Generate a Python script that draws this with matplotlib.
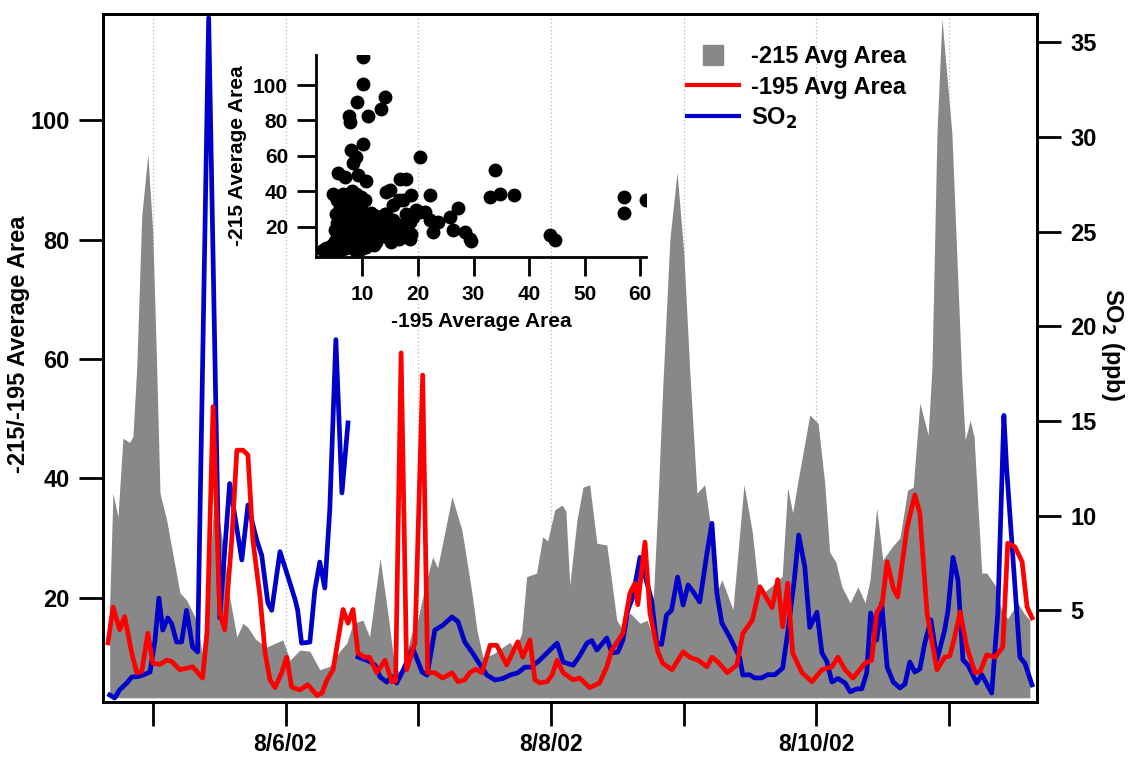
import matplotlib
matplotlib.use('Agg')
import matplotlib.pyplot as plt
from matplotlib.lines import Line2D

plt.rcParams['font.family'] = ['Liberation Sans', 'DejaVu Sans']
plt.rcParams['font.weight'] = 'bold'
plt.rcParams['axes.labelweight'] = 'bold'
plt.rcParams['mathtext.default'] = 'bf'

# ---------------- data (time in hours since 2002-08-05 00:00) ----------------
area215_t = [-7.8, -7.2, -6.3, -5.4, -4.2, -3.6, -2.9, -2.0, -0.9, 0.0, 0.7, 1.3, 2.5, 4.9, 6.1, 8.0, 8.9, 9.9,
             11.2, 12.5, 13.9, 15.2, 16.3, 17.2, 18.6, 20.6, 23.5, 24.8, 26.6, 28.4, 30.2, 32.0, 33.8, 35.1, 36.2,
             38.0, 39.2, 41.1, 42.5, 43.8, 45.0, 46.8, 47.9, 49.2, 50.6, 51.5, 54.1, 55.9, 57.7, 58.6, 59.7, 61.5,
             63.3, 64.6, 65.5, 66.7, 67.6, 69.4, 70.5, 71.4, 72.7, 74.0, 74.7, 75.4, 76.7, 77.8, 79.0, 80.3, 82.1,
             83.9, 85.0, 86.3, 88.1, 89.4, 90.2, 91.3, 92.2, 93.5, 94.8, 96.0, 97.1, 98.4, 99.8, 100.7, 102.0,
             102.9, 104.9, 106.9, 108.4, 109.4, 110.7, 112.5, 113.8, 114.8, 115.7, 116.7, 118.8, 120.3, 121.5,
             122.4, 123.5, 124.6, 126.1, 127.5, 128.8, 129.7, 130.9, 132.0, 133.7, 135.1, 136.5, 137.5, 138.7,
             140.2, 140.9, 141.8, 142.7, 144.5, 146.3, 146.9, 147.8, 148.5, 149.9, 150.8, 152.3, 153.6, 154.6,
             156.4, 157.5, 158.6]
area215 = [19, 37.5, 33.5, 46.7, 46, 47, 58.6, 84, 94.3, 81, 58.6, 37.5, 33, 20.8, 19.6, 16, 10.7, 20,
           38, 30, 20, 13.4, 15.7, 15, 13, 11.7, 12.9, 9.5, 11.2, 11, 7.9, 8.5, 11, 12.4, 15.7,
           16.2, 13.4, 26.6, 17.4, 7.9, 7.5, 14, 16.2, 21.8, 26.8, 25, 36.9, 31.3, 20.8, 14.6, 10, 10.5,
           11.7, 12.5, 11, 14, 23.5, 24.1, 30.2, 29.5, 34.7, 35.5, 34.5, 22.1, 33, 38.5, 38.9, 29.1, 28.8,
           16.2, 14.5, 17.4, 15.7, 16.2, 14, 35, 55, 80, 91.3, 78, 58, 37.5, 38.9, 33, 20.8,
           23, 18, 38.9, 31, 22.4, 21, 22.4, 23.5, 38.4, 34.2, 39.7, 50.6, 49.2, 39.2,
           27.6, 26, 21.8, 19.1, 21.8, 19.1, 23, 35, 26.3, 28.5, 30, 38, 38.5, 52.6,
           47.2, 58.6, 97.8, 117, 97.8, 56.5, 46.4, 49.7, 47, 24.1, 24.1, 22.1, 17.4, 16.5,
           19.1, 17.4, 16.2]

area195_t = [-8.1, -7.2, -6.0, -5.1, -3.8, -2.9, -2.0, -0.9, 0.0, 1.3, 2.5, 3.4, 4.9, 7.2, 9.0, 9.8, 10.9, 12.1,
             13.0, 14.3, 15.2, 16.3, 17.2, 18.1, 19.4, 20.3, 21.2, 22.1, 23.3, 24.2, 25.1, 26.6, 28.0, 29.7,
             30.6, 31.5, 32.6, 33.8, 34.4, 35.3, 36.2, 37.1, 38.3, 39.2, 40.5, 42.0, 43.2, 43.9, 44.9, 45.9,
             47.4, 48.8, 49.7, 51.0, 52.4, 54.1, 55.2, 56.4, 57.3, 58.4, 59.5, 61.0, 62.2, 64.0, 66.0, 66.9,
             68.2, 69.1, 70.0, 71.3, 72.2, 73.1, 74.2, 76.0, 77.2, 79.0, 80.8, 82.1, 83.0, 85.0, 86.3, 87.2,
             87.7, 89.0, 89.9, 91.3, 92.2, 93.9, 95.9, 97.1, 98.6, 100.2, 101.1, 102.2, 103.9, 105.6, 106.7,
             108.4, 109.8, 112.0, 113.0, 113.9, 114.8, 115.7, 117.4, 119.2, 121.0, 122.8, 123.9, 125.2, 126.6,
             128.8, 130.0, 130.9, 131.9, 132.8, 133.9, 134.7, 136.4, 137.8, 138.7, 140.0, 141.8, 143.2, 144.1,
             145.0, 146.0, 147.2, 148.7, 149.6, 150.8, 152.3, 153.7, 154.6, 155.9, 157.2, 158.1, 159.0]
area195 = [12.4, 18.4, 14.6, 16.8, 10.7, 7.4, 7.6, 14, 9, 8.8, 9.5, 9.3, 7.9, 8.4, 6.5, 14, 52, 17.4,
           14.6, 30, 44.7, 44.7, 43.9, 29.6, 20, 10.7, 6.2, 4.9, 7.4, 10, 5.0, 4.5, 5.4, 3.6,
           4, 6.2, 7.9, 14.6, 18, 15.7, 18, 10.7, 10, 10, 7.4, 9.5, 5.9, 6, 61, 7.9,
           12.4, 57.3, 7.4, 7.4, 6.5, 7.4, 5.9, 6.2, 7.4, 8, 7.4, 12, 12, 8.7, 12.6, 10,
           12.9, 6.2, 5.7, 5.9, 7, 9.5, 7.4, 6.2, 6.5, 4.9, 5.7, 8.4, 11.2, 14, 20.8, 22.4,
           18.8, 29.3, 17.4, 11, 9, 7.9, 10.9, 10, 9.5, 8.4, 10, 9.2, 7.4, 8.7, 14,
           16.2, 21.8, 18.3, 23, 15.1, 22.4, 10.7, 7.4, 5.9, 7.9, 8.4, 10, 7.9, 6.5,
           9, 9.5, 17.4, 19, 26, 21.6, 20.1, 31.8, 37.2, 34.2, 17.4, 7.9, 10, 10.2,
           13.4, 17.6, 11.7, 7.4, 7.6, 10.4, 10, 11.7, 29.1, 28.5, 26, 18.4, 16.6]

so2_a_t = [-7.8, -6.9, -6.0, -4.7, -3.8, -2.7, -1.8, -0.5, 0.4, 1.1, 1.8, 2.7, 3.4, 4.3, 5.2, 6.1, 7.2, 8.1,
           10.1, 12.1, 13.9, 16.1, 17.2, 18.8, 19.7, 20.8, 21.5, 23.0, 24.8, 25.7, 26.2, 26.9, 28.4, 29.3,
           30.2, 31.1, 32.0, 33.1, 34.2, 35.3]
so2_a = [0.53, 0.37, 0.8, 1.16, 1.48, 1.5, 1.58, 1.74, 3.43, 5.65, 3.96, 4.6, 4.3, 3.33, 3.33, 5.0, 3.06, 2.8,
         36.3, 4.6, 11.7, 7.66, 10.56, 8.7, 7.9, 5.4, 5.0, 8.1, 6.44, 5.6, 5.0, 3.27, 3.32, 6.07,
         7.55, 6.18, 10.3, 19.3, 11.2, 14.9]

so2_b_t = [37.1, 38.3, 39.2, 40.2, 41.1, 42.3, 43.2, 44.1, 45.2, 47.0, 48.7, 49.6, 51.0, 52.4, 54.1, 55.2,
           56.4, 57.7, 58.8, 60.4, 61.9, 63.3, 64.6, 66.0, 67.3, 68.5, 70.0, 71.8, 73.1, 74.2, 76.0, 77.2,
           78.5, 79.4, 80.3, 82.1, 83.0, 84.1, 85.0, 85.9, 86.8, 88.1, 90.2, 91.1, 92.0, 92.9, 93.8, 94.9,
           95.9, 96.8, 97.9, 98.9, 100.2, 101.1, 102.0, 102.9, 104.3, 106.1, 106.7, 107.9, 108.8, 110.1,
           111.2, 112.5, 113.9, 114.8, 116.0, 116.8, 117.9, 118.8, 120.1, 121.0, 121.9, 122.8, 123.9, 125.2,
           126.1, 127.3, 128.2, 129.1, 129.8, 130.9, 131.8, 132.8, 133.9, 135.1, 136.0, 136.9, 137.8, 138.7,
           139.6, 140.7, 141.8, 143.2, 143.8, 144.7, 145.6, 146.5, 147.4, 149.0, 149.9, 151.7, 152.8, 153.9,
           154.4, 156.8, 157.7, 159.0]
so2_b = [2.53, 2.4, 2.3, 2.1, 1.48, 1.21, 1.5, 1.16, 1.8, 3.0, 1.74, 1.58, 3.96, 4.2, 4.65, 4.4,
         3.33, 2.8, 2.3, 1.58, 1.32, 1.4, 1.58, 1.7, 2.0, 2.0, 2.38, 2.9, 3.27, 2.27, 2.1, 2.6,
         3.27, 3.4, 2.9, 3.54, 2.75, 2.8, 3.43, 5.0, 5.7, 7.8, 5.54, 3.27, 3.2, 4.75, 5.0, 6.76,
         5.28, 6.34, 5.9, 5.44, 8.0, 9.6, 5.9, 4.33, 3.6, 2.53, 1.58, 1.6, 1.43, 1.43,
         1.6, 1.6, 1.95, 3.8, 6.6, 8.98, 7.3, 4.1, 4.9, 2.75, 2.3, 1.21, 1.4, 1.16,
         0.7, 0.85, 0.85, 1.69, 4.86, 3.43, 5.39, 2.0, 1.21, 0.9, 1.1, 2.27, 1.74, 1.9,
         3.27, 4.5, 2.38, 3.96, 5.0, 7.8, 6.6, 2.38, 2.1, 1.16, 1.6, 0.63, 4.86, 15.3,
         12.5, 2.53, 2.2, 1.06]

# inset scatter: -195 vs -215
inset_195 = [10.1, 10.1, 9.1, 14.0, 13.4, 7.6, 7.7, 11.0, 10.1, 8.0, 8.8, 8.3, 20.3, 5.6, 6.8, 9.2, 10.7,
             16.7, 17.9, 14.3, 14.9, 16.5, 18.8, 22.1, 4.7, 6.5, 8.9, 10.4, 15.5, 27.2, 19.7, 21.2, 17.9,
             25.7, 14.0, 22.1, 23.6, 18.5, 15.5, 16.4, 22.7, 26.3, 28.4, 29.3, 29.6, 18.5, 18.8, 15.2,
             16.5, 12.5, 2.9, 4.1, 5.9, 7.1, 9.2, 10.7, 11.9, 33.9, 32.9, 34.8, 37.2, 43.7, 44.6, 57.0,
             57.1, 61.0, 19.1, 20.3, 17.3,
             4.5, 5.0, 5.5, 6.0, 6.5, 7.0, 7.5, 8.0, 8.5, 9.0, 9.5, 10.0, 10.5, 11.0, 11.5, 12.0, 3.5, 4.0,
             5.2, 6.2, 8.7, 9.8, 5.0, 5.5, 6.0, 6.5, 7.0, 7.5, 8.0, 8.5, 9.0, 9.5, 10.0, 10.5, 11.0, 6.0,
             7.0, 8.0, 9.0, 10.0, 5.5, 6.5, 7.5, 8.5, 9.5, 7.2, 8.2, 9.8, 5.2, 6.8, 7.8, 8.8, 11.5, 12.5,
             13.0, 14.0, 13.5, 12.5, 11.5, 14.5, 15.0, 16.0, 17.0, 15.5, 14.2, 17.3, 16.8]
inset_215 = [116, 100.7, 90.3, 93.5, 86.6, 82.8, 79, 82.3, 66.9, 63.1, 59.3, 56, 59.3, 50.3, 48.1, 49, 45.6,
             46.8, 46.8, 39.6, 40.9, 34.9, 37.7, 38.1, 38.3, 38.3, 38.3, 34.9, 32.1, 30.6, 29.3, 28.4, 27.4,
             25.5, 27.4, 23.7, 22.7, 22.7, 21.8, 19.9, 17.1, 18.4, 17.1, 13.3, 12.0, 13.3, 16.2, 11.5,
             13.3, 11.5, 6.8, 8.6, 6.8, 9.0, 7.7, 8.6, 10.5, 51.8, 36.8, 38.7, 38.1, 15.2, 12.4, 36.8,
             28, 35.3, 25.5, 28.4, 34.9,
             10, 12, 9, 14, 11, 8, 13, 10, 15, 12, 9, 14, 11, 16, 13, 10, 8, 7,
             7, 7, 7, 7.5, 18, 22, 26, 20, 24, 18, 28, 22, 26, 19, 23, 20, 22, 31,
             33, 35, 31, 29, 35, 28, 30, 32, 34, 38, 40, 37, 27, 16, 21, 17, 18, 20,
             15, 17, 22, 26, 28, 14, 19, 16, 15, 24, 27.5, 19, 21]

day_ticks = [0, 24, 48, 72, 96, 120, 144]
day_labels = ['', '8/6/02', '', '8/8/02', '', '8/10/02', '']
left_ticks = [20, 40, 60, 80, 100]
right_ticks = [5, 10, 15, 20, 25, 30, 35]
inset_xticks = [10, 20, 30, 40, 50, 60]
inset_yticks = [20, 40, 60, 80, 100]

GRAY = '#888888'
RED = '#ff0000'
BLUE = '#0000c8'
FS = 16.5
LW = 3.4

fig = plt.figure(figsize=(11.36, 7.57), dpi=100)
ax = fig.add_axes([0.0907, 0.0727, 0.8222, 0.9088])
ax2 = ax.twinx()

ax.set_xlim(-9.0, 159.9)
ax.set_ylim(2.5, 117.8)
ax2.set_ylim(0.16, 36.5)

ax.set_axisbelow(True)
ax.grid(axis='x', linestyle=(0, (1, 2)), color='#b8b8b8', linewidth=0.9)
ax.fill_between(area215_t, area215, 3.2, color=GRAY, linewidth=0, zorder=1)

ax2.plot(so2_a_t, so2_a, color=BLUE, lw=LW, zorder=2, solid_joinstyle='round')
ax2.plot(so2_b_t, so2_b, color=BLUE, lw=LW, zorder=2, solid_joinstyle='round')
ax2.plot(area195_t, area195, color=RED, lw=LW, zorder=3, transform=ax.transData,
         solid_joinstyle='round')

ax.set_xticks(day_ticks)
ax.set_xticklabels(day_labels, fontsize=FS, fontweight='bold')
ax.set_yticks(left_ticks)
ax.set_yticklabels([str(v) for v in left_ticks], fontsize=FS + 0.5, fontweight='bold')
ax2.set_yticks(right_ticks)
ax2.set_yticklabels([str(v) for v in right_ticks], fontsize=FS + 0.5, fontweight='bold')
ax.tick_params(axis='x', direction='out', length=17, width=2, pad=5)
ax.tick_params(axis='y', direction='out', length=17, width=2, pad=7)
ax2.tick_params(axis='y', direction='out', length=17, width=2, pad=7)
for a in (ax, ax2):
    for s in a.spines.values():
        s.set_linewidth(2)

ax.set_ylabel('-215/-195 Average Area', fontsize=FS + 0.5, fontweight='bold')
ax.yaxis.set_label_coords(-0.078, 0.52)
ax2.set_ylabel('SO$_2$ (ppb)', fontsize=FS + 0.5, fontweight='bold', rotation=270, va='center')
ax2.yaxis.set_label_coords(1.081, 0.52)

handles = [Line2D([], [], marker='s', color=GRAY, linestyle='none', markersize=14),
           Line2D([], [], color=RED, lw=3),
           Line2D([], [], color=BLUE, lw=3)]
labels = ['-215 Avg Area', '-195 Avg Area', 'SO$_2$']
leg = ax2.legend(handles, labels, loc='upper left', bbox_to_anchor=(0.615, 0.968), frameon=False,
                 prop={'size': FS + 0.5, 'weight': 'bold'}, handlelength=2.2, handletextpad=0.5,
                 labelspacing=0.3, borderaxespad=0)

# inset
ins = fig.add_axes([0.278, 0.6605, 0.291, 0.267])
ins.set_zorder(10)
ins.patch.set_alpha(0)
ins.scatter(inset_195, inset_215, s=100, color='black', linewidths=0)
ins.set_xlim(1.6, 61.1)
ins.set_ylim(3, 117)
ins.set_xticks(inset_xticks)
ins.set_yticks(inset_yticks)
ins.set_xticklabels([str(v) for v in inset_xticks], fontsize=15, fontweight='bold')
ins.set_yticklabels([str(v) for v in inset_yticks], fontsize=15, fontweight='bold')
ins.spines['top'].set_visible(False)
ins.spines['right'].set_visible(False)
ins.spines['left'].set_linewidth(2)
ins.spines['bottom'].set_linewidth(2)
ins.tick_params(direction='out', length=14, width=2, pad=6)
ins.set_xlabel('-195 Average Area', fontsize=15, fontweight='bold', labelpad=6)
ins.set_ylabel('-215 Average Area', fontsize=15, fontweight='bold', labelpad=4)

fig.savefig('out.png', dpi=100)
